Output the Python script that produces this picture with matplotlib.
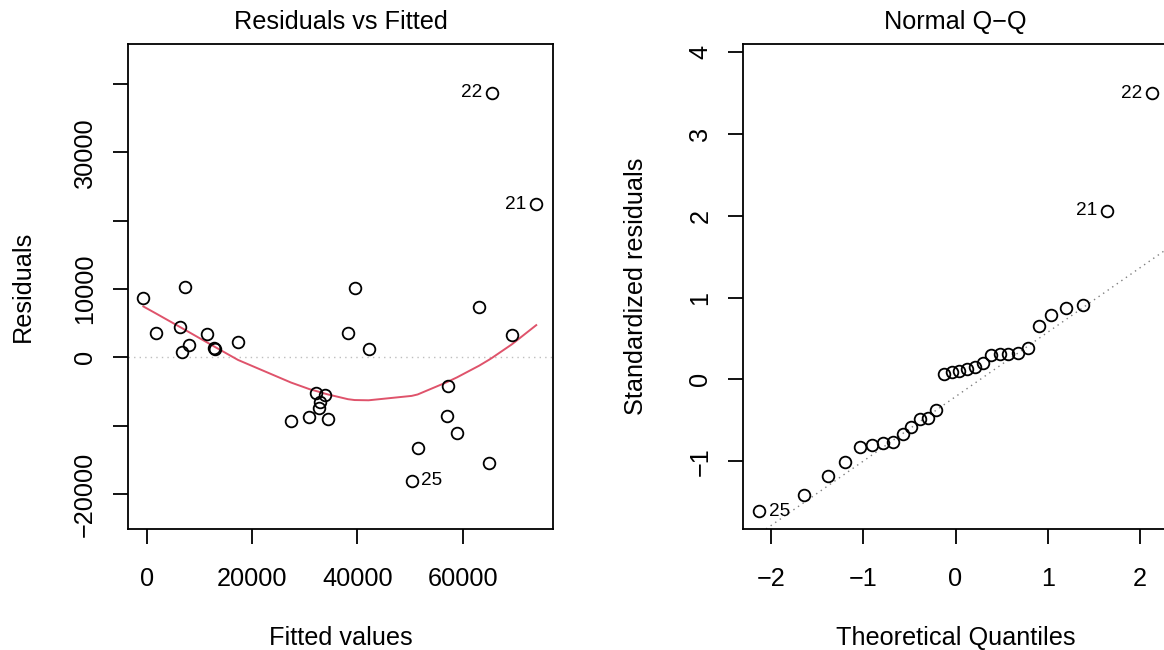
import numpy as np
import matplotlib
matplotlib.use("Agg")
import matplotlib.pyplot as plt
from statistics import NormalDist

# ---------------- data ----------------
obs_id = list(range(1, 31))
fitted = [-633, 1772, 7215, 6392, 6772, 8038, 11456, 12785, 13038, 17342,
          27405, 30886, 32152, 33797, 32975, 32785, 34367, 38228, 39494, 42152,
          73987, 65506, 63165, 69367, 50316, 51456, 57278, 56962, 58924, 65063]
residuals = [8732, 3610, 10341, 4390, 780, 1854, 3415, 1415, 1220, 2195,
             -9268, -8683, -5220, -5512, -6585, -7415, -8976, 3561, 10146, 1171,
             22390, 38732, 7415, 3317, -18049, -13268, -4146, -8634, -11122, -15512]
# standardized residuals, sorted ascending
std_sorted = [-1.610, -1.411, -1.183, -1.005, -0.826, -0.801, -0.773, -0.769,
              -0.667, -0.578, -0.484, -0.468, -0.379, 0.065, 0.093, 0.101,
              0.122, 0.154, 0.195, 0.296, 0.305, 0.312, 0.324, 0.385,
              0.654, 0.784, 0.876, 0.916, 2.065, 3.500]

left_yticks = [-20000, -10000, 0, 10000, 20000, 30000, 40000]
left_ylabels = ["\u221220000", "", "0", "10000", "", "30000", ""]
left_xticks = [0, 20000, 40000, 60000]
left_xlabels = ["0", "20000", "40000", "60000"]
right_xticks = [-2, -1, 0, 1, 2]
right_xlabels = ["\u22122", "\u22121", "0", "1", "2"]
right_yticks = [-1, 0, 1, 2, 3, 4]
right_ylabels = ["\u22121", "0", "1", "2", "3", "4"]

fitted = np.array(fitted, float)
residuals = np.array(residuals, float)
n = len(fitted)

# map sorted standardized residuals to observations by residual rank
std_res = np.empty(n)
std_res[np.argsort(residuals, kind="stable")] = std_sorted


def lowess(x, y, f=2 / 3, iters=3):
    order = np.argsort(x, kind="stable")
    x = np.asarray(x, float)[order]
    y = np.asarray(y, float)[order]
    n = len(x)
    delta = 0.01 * (x[-1] - x[0])
    ns = max(min(int(f * n + 1e-7), n), 2)
    rw = np.ones(n)
    ys = np.zeros(n)

    def lowest(xs, nleft, nright, userw):
        h = max(xs - x[nleft], x[nright] - xs)
        h9, h1 = 0.999 * h, 0.001 * h
        w = np.zeros(n)
        a = 0.0
        j = nleft
        while j < n:
            r = abs(x[j] - xs)
            if r <= h9:
                if r <= h1:
                    w[j] = 1.0
                else:
                    w[j] = (1 - (r / h) ** 3) ** 3
                if userw:
                    w[j] *= rw[j]
                a += w[j]
            elif x[j] > xs:
                break
            j += 1
        nrt = j - 1
        if a <= 0:
            return None
        w[nleft:nrt + 1] /= a
        if h > 0:
            a = np.sum(w[nleft:nrt + 1] * x[nleft:nrt + 1])
            b = xs - a
            c = np.sum(w[nleft:nrt + 1] * (x[nleft:nrt + 1] - a) ** 2)
            if np.sqrt(c) > 0.001 * (x[-1] - x[0]):
                b /= c
                w[nleft:nrt + 1] *= b * (x[nleft:nrt + 1] - a) + 1
        return np.sum(w[nleft:nrt + 1] * y[nleft:nrt + 1])

    for it in range(iters + 1):
        nleft, nright = 0, ns - 1
        last = -1
        i = 0
        while True:
            while nright < n - 1:
                d1 = x[i] - x[nleft]
                d2 = x[nright + 1] - x[i]
                if d1 <= d2:
                    break
                nleft += 1
                nright += 1
            v = lowest(x[i], nleft, nright, it > 0)
            ys[i] = y[i] if v is None else v
            if last < i - 1:
                denom = x[i] - x[last]
                for j in range(last + 1, i):
                    alpha = (x[j] - x[last]) / denom
                    ys[j] = alpha * ys[i] + (1 - alpha) * ys[last]
            last = i
            cut = x[last] + delta
            i = last + 1
            while i < n:
                if x[i] > cut:
                    break
                if x[i] == x[last]:
                    ys[i] = ys[last]
                    last = i
                i += 1
            i = max(last + 1, i - 1)
            if last >= n - 1:
                break
        if it == iters:
            break
        res = y - ys
        cmad = 6 * np.median(np.abs(res))
        if cmad < 1e-7 * np.mean(np.abs(res)):
            break
        r = np.abs(res)
        rw = np.where(r <= 0.001 * cmad, 1.0,
                      np.where(r > 0.999 * cmad, 0.0, (1 - (r / cmad) ** 2) ** 2))
    return x, ys


# ---------------- styling ----------------
plt.rcParams["font.family"] = ["Liberation Sans", "DejaVu Sans"]
FS = 18.2
ID_FS = FS * 0.75
LW = 1.3
TICKLEN = 10.8
DOTTED = (0, (1, 3))

fig = plt.figure(figsize=(11.64, 6.5), dpi=100)
W, H = 1164.0, 650.0


def px_axes(x0, x1, y0, y1):
    return fig.add_axes([x0 / W, 1 - y1 / H, (x1 - x0) / W, (y1 - y0) / H])


def style(ax):
    for s in ax.spines.values():
        s.set_linewidth(LW)
    ax.tick_params(direction="out", length=TICKLEN, width=LW, labelsize=FS,
                   color="black")
    ax.tick_params(axis="x", pad=16.5)
    ax.tick_params(axis="y", pad=11.5)
    for lab in ax.get_yticklabels():
        lab.set_rotation(90)
        lab.set_va("center")


marker_kw = dict(ls="none", marker="o", ms=8.4, mfc="none", mec="black",
                 mew=LW, zorder=3)
ID_OFF = 7.0

# ---------------- Residuals vs Fitted ----------------
ax1 = px_axes(128, 553, 44, 529)
ax1.set_xlim(-3550, 77170)
ax1.set_ylim(-25140, 45870)
ax1.axhline(0, color="#BEBEBE", lw=1.0, ls=DOTTED, zorder=1)
sx, sy = lowess(fitted, residuals)
ax1.plot(sx, sy, color="#DF536B", lw=1.4, zorder=2)
ax1.plot(fitted, residuals, **marker_kw)
ax1.set_xticks(left_xticks, left_xlabels)
ax1.set_yticks(left_yticks, left_ylabels)
style(ax1)
ax1.set_title("Residuals vs Fitted", fontsize=FS, pad=10.6)
ax1.set_xlabel("Fitted values", fontsize=FS)
ax1.set_ylabel("Residuals", fontsize=FS)
ax1.xaxis.set_label_coords(0.5, (529 - 638) / 485)
ax1.xaxis.label.set_va("center")
ax1.yaxis.set_label_coords((22.5 - 128) / 425, 0.5)
ax1.yaxis.label.set_va("center")

top_r = np.argsort(-np.abs(residuals))[:3]
mid = np.mean([fitted[top_r].min(), fitted[top_r].max()])
for k in top_r:
    right = fitted[k] <= mid
    ax1.annotate(str(obs_id[k]), (fitted[k], residuals[k]),
                 xytext=(ID_OFF if right else -ID_OFF, 0), textcoords="offset points",
                 ha="left" if right else "right", va="center",
                 fontsize=ID_FS, annotation_clip=False)

# ---------------- Normal Q-Q ----------------
nd = NormalDist()
pp = [(i + 0.5) / n for i in range(n)]
theo_sorted = np.array([nd.inv_cdf(p) for p in pp])
theo = np.empty(n)
theo[np.argsort(std_res, kind="stable")] = theo_sorted

ax2 = px_axes(743.3, 1167.7, 44, 529)
ax2.set_xlim(-2.298, 2.298)
ax2.set_ylim(-1.830, 4.103)
q_y = np.quantile(std_res, [0.25, 0.75])
q_x = np.array([nd.inv_cdf(0.25), nd.inv_cdf(0.75)])
slope = (q_y[1] - q_y[0]) / (q_x[1] - q_x[0])
intercept = q_y[0] - slope * q_x[0]
ax2.axline((0, intercept), slope=slope, color="#7F7F7F", lw=1.0,
           ls=DOTTED, zorder=1)
ax2.plot(theo, std_res, **marker_kw)
ax2.set_xticks(right_xticks, right_xlabels)
ax2.set_yticks(right_yticks, right_ylabels)
style(ax2)
ax2.set_title("Normal Q\u2212Q", fontsize=FS, pad=10.6)
ax2.set_xlabel("Theoretical Quantiles", fontsize=FS)
ax2.set_ylabel("Standardized residuals", fontsize=FS)
ax2.xaxis.set_label_coords(0.5, (529 - 638) / 485)
ax2.xaxis.label.set_va("center")
ax2.yaxis.set_label_coords((636 - 743.3) / 424.4, 0.5)
ax2.yaxis.label.set_va("center")

top_s = np.argsort(-np.abs(std_res))[:3]
mid2 = np.mean([theo[top_s].min(), theo[top_s].max()])
for k in top_s:
    right = theo[k] <= mid2
    ax2.annotate(str(obs_id[k]), (theo[k], std_res[k]),
                 xytext=(ID_OFF if right else -ID_OFF, 0), textcoords="offset points",
                 ha="left" if right else "right", va="center",
                 fontsize=ID_FS, annotation_clip=False)

fig.savefig("out.png", dpi=100)
